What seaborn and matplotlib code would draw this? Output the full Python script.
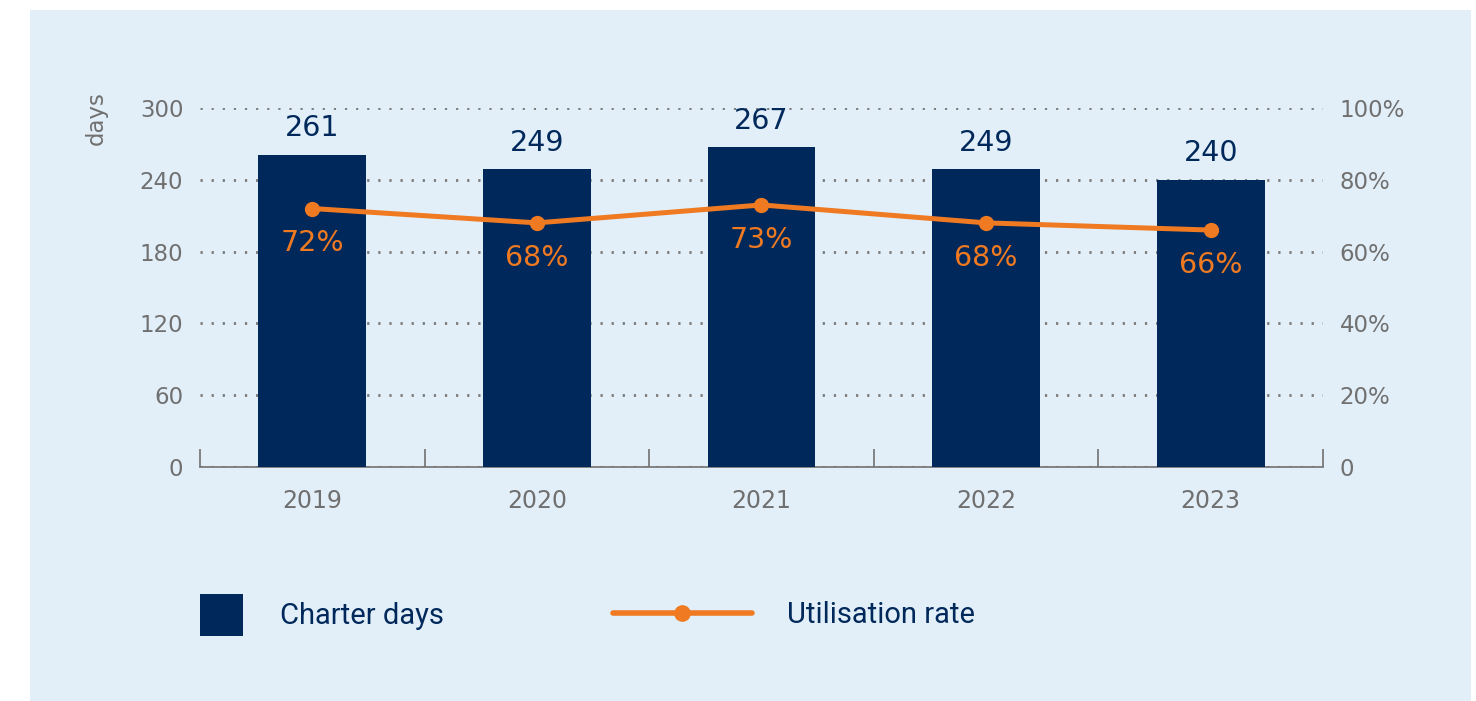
import matplotlib
matplotlib.use("Agg")
import matplotlib.pyplot as plt
from matplotlib.patches import Patch, Rectangle
from matplotlib.lines import Line2D
import pandas as pd
import seaborn as sns

years = ["2019", "2020", "2021", "2022", "2023"]
charter_days = [261, 249, 267, 249, 240]
utilisation = [72, 68, 73, 68, 66]
days_ticks = [0, 60, 120, 180, 240, 300]
rate_ticks = [0, 20, 40, 60, 80, 100]
rate_tick_labels = ["0", "20%", "40%", "60%", "80%", "100%"]

NAVY = "#00285a"
ORANGE = "#ef7a22"
PANEL = "#e2eff8"
GREY = "#707070"

df = pd.DataFrame({"year": years, "days": charter_days, "rate": utilisation})

sns.set_style("white")
plt.rcParams["font.family"] = ["DejaVu Sans"]

fig = plt.figure(figsize=(14.76, 7.01), dpi=100)
fig.patch.set_facecolor("white")
fig.patches.append(Rectangle((30 / 1476, 0), 1441 / 1476, 691 / 701,
                             transform=fig.transFigure, facecolor=PANEL,
                             edgecolor="none", zorder=-5))

ax = fig.add_axes([200 / 1476, 1 - 467 / 701, 1123 / 1476, 359 / 701])
ax.set_facecolor(PANEL)

sns.barplot(data=df, x="year", y="days", color=NAVY, width=0.48,
            saturation=1, linewidth=0, ax=ax, zorder=3)
ax.bar_label(ax.containers[0], padding=9, fontsize=20.5, color=NAVY)

ax.set_ylim(0, 300)
ax.set_xlim(-0.5, 4.5)
ax.set_yticks(days_ticks)
ax.tick_params(axis="y", length=0, pad=12, labelsize=16.5, labelcolor=GREY)
ax.yaxis.grid(True, linestyle=(0, (0.8, 3.2)), linewidth=2.0, color="#7a7a7a")
ax.set_axisbelow(True)
for s in ["left", "right", "top"]:
    ax.spines[s].set_visible(False)
ax.spines["bottom"].set_color(GREY)
ax.spines["bottom"].set_linewidth(1.2)
ax.set_ylabel("days", fontsize=16.5, color=GREY)
ax.yaxis.set_label_coords(-0.082, 0.972)
ax.set_xlabel("")

ax2 = ax.twinx()
sns.lineplot(x=list(range(len(years))), y=utilisation, ax=ax2, color=ORANGE,
             linewidth=3.6, marker="o", markersize=11, markeredgewidth=0)
for i, v in enumerate(utilisation):
    ax2.annotate(f"{v}%", (i, v), xytext=(0, -25), textcoords="offset points",
                 ha="center", va="center", fontsize=20.5, color=ORANGE)
ax2.set_ylim(0, 100)
ax2.set_yticks(rate_ticks)
ax2.set_yticklabels(rate_tick_labels)
ax2.tick_params(axis="y", length=0, pad=12, labelsize=16.5, labelcolor=GREY)
for s in ["left", "right", "top", "bottom"]:
    ax2.spines[s].set_visible(False)

# category boundaries as inward ticks, year labels on minor ticks
ax.set_xticks([i - 0.5 for i in range(len(years) + 1)])
ax.set_xticklabels([])
ax.set_xticks(range(len(years)), minor=True)
ax.set_xticklabels(years, minor=True)
ax.tick_params(axis="x", which="major", bottom=True, direction="in",
               length=13, width=1.2, color=GREY)
ax.tick_params(axis="x", which="minor", bottom=True, length=0, pad=16,
               labelsize=17, labelcolor=GREY)
ax.set_xlim(-0.5, 4.5)

leg_font = ["Roboto", "DejaVu Sans"]
h1 = Patch(facecolor=NAVY, edgecolor="none")
leg1 = fig.legend([h1], ["Charter days"], loc="center left",
                  bbox_to_anchor=(200 / 1476, 1 - 615 / 701), frameon=False,
                  borderpad=0, borderaxespad=0, handlelength=1.48,
                  handleheight=1.84, handletextpad=1.28,
                  prop={"family": leg_font, "size": 21})
h2 = Line2D([], [], color=ORANGE, linewidth=4, marker="o", markersize=12,
            markeredgewidth=0)
leg2 = fig.legend([h2], ["Utilisation rate"], loc="center left",
                  bbox_to_anchor=(613 / 1476, 1 - 615 / 701), frameon=False,
                  borderpad=0, borderaxespad=0, handlelength=4.75,
                  handletextpad=1.23, prop={"family": leg_font, "size": 21})
for leg in (leg1, leg2):
    for t in leg.get_texts():
        t.set_color(NAVY)

fig.savefig("out.png", dpi=100, facecolor=fig.get_facecolor())
